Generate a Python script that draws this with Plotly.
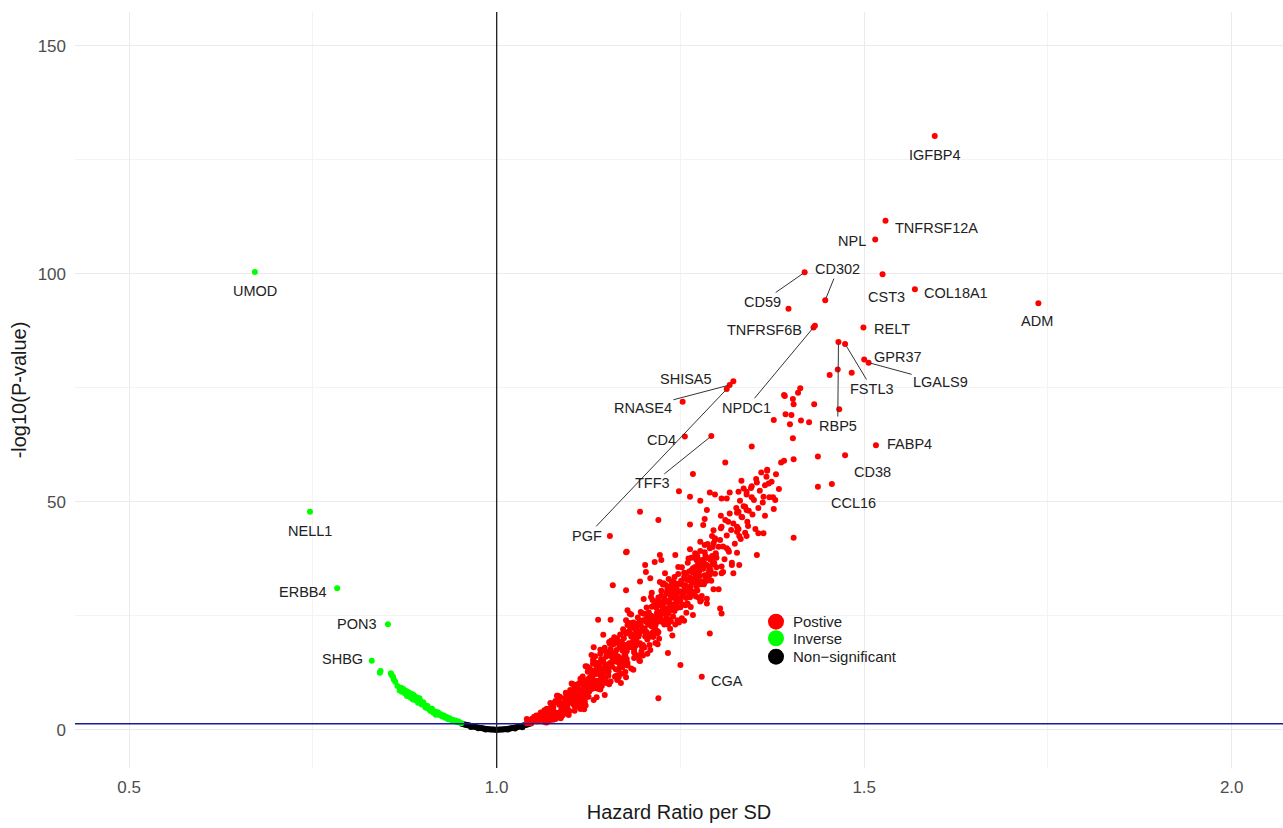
import plotly.graph_objects as go

# ---- labelled proteins (hazard ratio per SD, -log10 P) ----
pos_names = ["IGFBP4", "TNFRSF12A", "NPL", "CST3", "COL18A1", "ADM", "RELT", "CD302",
             "CD59", "TNFRSF6B", "NPDC1", "SHISA5", "RNASE4", "PGF", "CD4", "TFF3",
             "FSTL3", "GPR37", "LGALS9", "RBP5", "FABP4", "CD38", "CCL16", "CGA"]
pos_hr = [1.596, 1.529, 1.515, 1.525, 1.569, 1.737, 1.499, 1.447,
          1.419, 1.431, 1.433, 1.322, 1.317, 1.313, 1.256, 1.292,
          1.474, 1.500, 1.506, 1.465, 1.516, 1.474, 1.456, 1.279]
pos_logp = [130.2, 111.6, 107.5, 99.9, 96.6, 93.5, 88.2, 94.2,
            100.3, 88.2, 88.6, 76.4, 75.6, 74.7, 64.3, 64.4,
            84.6, 81.2, 80.5, 85.0, 62.4, 60.2, 53.9, 11.6]

inv_names = ["UMOD", "NELL1", "ERBB4", "PON3", "SHBG"]
inv_hr = [0.671, 0.746, 0.783, 0.852, 0.830]
inv_logp = [100.4, 47.8, 31.0, 23.1, 15.1]

# ---- remaining positive associations: dense band ----
pos_core = [
    (1.047, 1.38), (1.041, 1.40), (1.048, 2.40), (1.042, 2.05), (1.048, 1.66), (1.041, 2.36),
    (1.058, 3.04), (1.052, 2.00), (1.058, 2.14), (1.054, 2.31), (1.055, 1.87), (1.059, 2.25), (1.050, 2.14), (1.054, 2.00),
    (1.065, 4.11), (1.062, 3.15), (1.063, 2.42), (1.065, 4.27), (1.063, 2.13), (1.066, 3.84), (1.060, 3.78), (1.062, 2.79), (1.068, 4.57),
    (1.077, 4.95), (1.074, 2.22), (1.077, 4.24), (1.071, 2.64), (1.073, 5.87), (1.075, 3.86), (1.072, 3.65), (1.076, 4.28), (1.076, 2.77), (1.072, 2.09),
    (1.084, 6.49), (1.089, 5.59), (1.087, 2.52), (1.087, 3.68), (1.085, 5.49), (1.087, 2.62), (1.082, 7.45), (1.084, 6.76), (1.081, 3.68), (1.080, 2.36), (1.089, 4.74),
    (1.093, 4.35), (1.096, 4.91), (1.099, 4.10), (1.091, 3.85), (1.090, 3.17), (1.095, 7.70), (1.099, 7.88), (1.095, 3.67), (1.097, 7.76), (1.094, 8.13), (1.099, 5.96), (1.096, 4.78),
    (1.106, 9.24), (1.109, 5.60), (1.103, 8.12), (1.101, 6.79), (1.106, 4.13), (1.102, 6.16), (1.107, 6.58), (1.105, 7.70), (1.102, 10.15), (1.104, 7.00), (1.100, 7.56), (1.107, 5.04), (1.108, 5.67),
    (1.116, 10.20), (1.113, 8.65), (1.110, 9.14), (1.111, 7.58), (1.115, 10.94), (1.113, 6.60), (1.118, 8.24), (1.114, 5.20), (1.117, 5.69), (1.112, 7.99), (1.119, 4.46), (1.114, 11.19), (1.119, 5.12), (1.117, 6.51),
    (1.121, 5.29), (1.123, 13.85), (1.128, 13.11), (1.122, 7.15), (1.120, 6.13), (1.127, 10.32), (1.128, 10.69), (1.125, 11.15), (1.122, 9.48), (1.125, 7.25), (1.121, 13.94), (1.126, 13.48), (1.129, 10.22), (1.124, 8.92),
    (1.132, 6.51), (1.137, 14.54), (1.134, 16.09), (1.132, 10.73), (1.137, 9.08), (1.134, 14.54), (1.136, 7.13), (1.136, 13.93), (1.133, 13.00), (1.139, 12.28), (1.131, 9.60), (1.139, 10.73), (1.133, 12.48), (1.132, 9.08),
    (1.140, 12.67), (1.140, 13.66), (1.143, 12.78), (1.140, 10.03), (1.145, 11.57), (1.149, 16.96), (1.149, 16.08), (1.142, 10.91), (1.141, 14.65), (1.148, 10.47), (1.141, 8.82), (1.147, 7.61), (1.144, 17.40), (1.141, 17.51),
    (1.153, 14.07), (1.155, 16.29), (1.159, 18.75), (1.156, 16.52), (1.156, 19.56), (1.152, 12.78), (1.159, 15.82), (1.150, 12.78), (1.154, 18.86), (1.153, 9.97), (1.151, 14.07), (1.157, 13.83), (1.152, 11.84), (1.159, 16.29),
    (1.160, 20.25), (1.161, 11.63), (1.163, 14.88), (1.167, 14.50), (1.164, 10.88), (1.162, 13.25), (1.169, 10.25), (1.165, 16.13), (1.162, 11.75), (1.166, 11.50), (1.160, 19.13), (1.165, 19.00), (1.169, 15.63), (1.168, 20.88),
    (1.176, 11.50), (1.173, 20.08), (1.170, 12.28), (1.177, 15.53), (1.174, 18.65), (1.178, 22.94), (1.171, 13.71), (1.173, 17.74), (1.172, 22.03), (1.179, 18.26), (1.175, 12.67), (1.178, 14.10), (1.176, 23.98), (1.172, 15.14),
    (1.187, 16.92), (1.189, 16.38), (1.184, 18.40), (1.183, 25.29), (1.185, 22.59), (1.189, 20.16), (1.180, 21.64), (1.187, 17.86), (1.186, 23.53), (1.181, 25.42), (1.182, 20.97), (1.183, 13.41), (1.188, 21.10), (1.186, 13.14),
    (1.192, 16.26), (1.199, 18.55), (1.198, 21.66), (1.194, 15.18), (1.190, 20.98), (1.197, 25.57), (1.195, 15.04), (1.193, 23.41), (1.191, 21.52), (1.199, 16.26), (1.196, 25.84), (1.197, 16.39), (1.195, 23.82), (1.194, 21.39),
    (1.200, 28.69), (1.201, 18.03), (1.209, 17.49), (1.206, 24.10), (1.204, 26.80), (1.202, 20.46), (1.205, 16.68), (1.207, 25.72), (1.203, 25.45), (1.208, 20.86), (1.203, 23.70), (1.209, 23.97), (1.201, 22.08), (1.208, 18.57),
    (1.217, 24.66), (1.219, 18.72), (1.213, 20.34), (1.210, 29.11), (1.216, 18.99), (1.214, 27.36), (1.212, 28.44), (1.211, 30.06), (1.215, 21.01), (1.214, 23.58), (1.218, 28.17), (1.218, 21.69), (1.219, 25.87), (1.211, 22.63),
    (1.224, 30.48), (1.229, 25.48), (1.221, 19.95), (1.223, 24.94), (1.226, 27.37), (1.228, 24.00), (1.222, 32.37), (1.224, 26.02), (1.220, 28.99), (1.226, 31.83), (1.227, 28.05), (1.225, 23.73), (1.220, 21.43), (1.229, 26.43),
    (1.232, 30.63), (1.234, 24.15), (1.237, 23.74), (1.238, 32.52), (1.236, 22.12), (1.231, 24.96), (1.234, 33.06), (1.236, 31.44), (1.230, 31.71), (1.239, 20.64), (1.233, 23.07), (1.238, 27.12), (1.230, 28.33), (1.235, 29.68),
    (1.242, 33.48), (1.243, 23.08), (1.246, 26.73), (1.244, 30.78), (1.248, 23.49), (1.240, 24.84), (1.241, 31.18), (1.249, 30.37), (1.245, 29.29), (1.247, 31.99), (1.243, 27.40), (1.247, 34.15), (1.246, 24.03), (1.244, 28.48),
    (1.251, 30.25), (1.256, 33.22), (1.258, 25.66), (1.255, 34.44), (1.253, 27.42), (1.259, 27.69), (1.254, 31.74), (1.252, 24.45), (1.250, 26.88), (1.252, 35.65), (1.255, 29.17), (1.258, 34.30), (1.255, 23.91), (1.257, 30.39),
    (1.264, 32.56), (1.263, 30.54), (1.267, 35.40), (1.261, 37.56), (1.260, 27.57), (1.268, 29.86), (1.265, 37.69), (1.262, 34.72), (1.269, 30.13), (1.266, 33.10), (1.267, 25.14), (1.264, 26.89), (1.269, 34.72), (1.261, 31.21),
    (1.274, 33.52), (1.279, 36.63), (1.276, 35.41), (1.272, 37.17), (1.270, 37.71), (1.277, 39.19), (1.279, 29.34), (1.275, 28.93), (1.273, 38.11), (1.271, 29.20), (1.278, 28.39), (1.270, 33.12), (1.275, 35.68), (1.271, 34.20),
    (1.285, 37.80), (1.288, 32.76), (1.281, 35.42), (1.287, 40.74), (1.280, 36.68), (1.282, 35.84), (1.284, 33.60), (1.286, 28.70), (1.289, 35.00), (1.283, 33.88), (1.283, 38.92), (1.286, 37.66),
    (1.296, 36.58), (1.290, 35.74), (1.298, 38.40), (1.292, 32.66), (1.294, 40.08), (1.291, 37.28), (1.293, 42.46), (1.297, 41.62), (1.299, 37.70), (1.295, 43.72),
    (1.305, 44.2), (1.306, 35.8), (1.308, 40.2), (1.310, 37.4), (1.311, 46.0), (1.313, 42.6),
    (1.316, 39.0), (1.317, 47.4), (1.319, 43.8), (1.320, 36.6), (1.322, 45.2), (1.324, 40.8),
    (1.326, 48.6), (1.327, 38.8), (1.329, 44.0), (1.331, 50.2), (1.332, 41.8), (1.334, 46.6),
    (1.336, 49.0), (1.338, 43.2), (1.340, 51.6), (1.341, 45.6), (1.343, 48.0),
    (1.346, 53.0), (1.348, 47.2), (1.350, 50.4), (1.352, 44.0), (1.353, 55.0),
    (1.356, 48.6), (1.358, 52.4), (1.360, 56.4), (1.362, 49.8), (1.365, 53.6), (1.368, 57.0), (1.371, 51.0), (1.374, 54.4),
    (1.377, 48.4), (1.380, 56.0), (1.384, 52.8), (1.387, 58.6),
]

pos_core_b = [
    (1.051, 2.86), (1.054, 3.10), (1.056, 3.08), (1.055, 2.09), (1.059, 3.15), (1.052, 2.60),
    (1.066, 1.63), (1.065, 3.22), (1.063, 2.66), (1.061, 2.69), (1.068, 1.57), (1.069, 4.37), (1.067, 3.05), (1.064, 1.93),
    (1.073, 3.98), (1.072, 4.57), (1.070, 2.81), (1.078, 5.87), (1.074, 4.95), (1.076, 4.82), (1.079, 3.77), (1.077, 2.18), (1.075, 3.31),
    (1.083, 7.45), (1.086, 7.24), (1.088, 4.59), (1.081, 6.12), (1.082, 2.99), (1.087, 5.86), (1.089, 5.75), (1.085, 3.79), (1.080, 6.28), (1.082, 3.47),
    (1.098, 3.23), (1.092, 6.89), (1.094, 4.66), (1.091, 4.97), (1.099, 8.07), (1.097, 5.71), (1.095, 6.46), (1.096, 5.59), (1.099, 7.20), (1.090, 5.16), (1.097, 4.10),
    (1.109, 8.96), (1.103, 7.14), (1.101, 7.07), (1.105, 8.12), (1.104, 6.44), (1.100, 8.68), (1.105, 5.39), (1.108, 6.72), (1.102, 7.91), (1.106, 9.87), (1.103, 10.01), (1.107, 4.90),
    (1.114, 4.55), (1.119, 8.40), (1.117, 11.68), (1.111, 6.02), (1.115, 8.81), (1.119, 10.37), (1.112, 5.37), (1.113, 7.74), (1.110, 9.71), (1.117, 6.68), (1.118, 9.38), (1.116, 7.17), (1.112, 10.20),
    (1.124, 13.57), (1.120, 9.39), (1.126, 8.36), (1.122, 7.90), (1.128, 10.04), (1.121, 10.78), (1.125, 10.69), (1.127, 11.52), (1.123, 7.99), (1.129, 11.99), (1.124, 12.73), (1.129, 8.92), (1.126, 10.97),
    (1.132, 15.06), (1.138, 8.98), (1.130, 11.35), (1.133, 9.70), (1.134, 12.17), (1.136, 14.03), (1.139, 9.50), (1.135, 10.73), (1.137, 14.65), (1.134, 12.90), (1.131, 14.44), (1.138, 13.93), (1.135, 9.39),
    (1.147, 17.95), (1.140, 10.25), (1.146, 13.55), (1.143, 9.59), (1.149, 12.78), (1.148, 11.35), (1.142, 15.53), (1.141, 16.63), (1.144, 12.01), (1.148, 14.32), (1.145, 15.20), (1.149, 10.25), (1.141, 11.90),
    (1.155, 10.56), (1.151, 13.48), (1.153, 19.21), (1.158, 14.88), (1.157, 15.82), (1.152, 12.78), (1.159, 19.10), (1.150, 13.60), (1.156, 16.64), (1.154, 14.65), (1.154, 17.22), (1.151, 13.95), (1.155, 17.69),
    (1.169, 14.75), (1.163, 17.50), (1.168, 18.25), (1.164, 20.00), (1.161, 16.88), (1.166, 13.25), (1.160, 16.00), (1.169, 15.63), (1.165, 12.00), (1.167, 18.13), (1.162, 19.63), (1.163, 15.13), (1.168, 13.75),
    (1.172, 18.39), (1.176, 21.12), (1.173, 14.49), (1.171, 17.35), (1.177, 17.22), (1.178, 14.62), (1.175, 16.31), (1.170, 19.30), (1.179, 21.25), (1.174, 16.57), (1.178, 18.00), (1.173, 21.51), (1.175, 15.40),
    (1.181, 23.40), (1.180, 18.94), (1.182, 22.45), (1.187, 15.70), (1.185, 22.32), (1.183, 20.43), (1.189, 18.40), (1.186, 20.02), (1.188, 23.26), (1.184, 19.08), (1.182, 18.13), (1.189, 21.10), (1.187, 17.46),
    (1.190, 22.74), (1.195, 18.96), (1.191, 21.93), (1.198, 23.95), (1.199, 22.33), (1.196, 18.55), (1.194, 20.98), (1.192, 24.63), (1.197, 17.20), (1.193, 20.44), (1.196, 22.87), (1.190, 19.63), (1.198, 18.01),
    (1.208, 23.56), (1.201, 22.08), (1.205, 24.91), (1.202, 24.10), (1.209, 25.05), (1.203, 21.00), (1.206, 23.02), (1.207, 20.32), (1.204, 21.40), (1.200, 25.45), (1.203, 23.83), (1.205, 19.78), (1.208, 20.59),
    (1.218, 25.60), (1.212, 21.28), (1.211, 26.95), (1.210, 24.25), (1.219, 21.15), (1.217, 23.44), (1.215, 22.50), (1.213, 23.85), (1.216, 22.90), (1.219, 27.22), (1.214, 21.55), (1.217, 26.82), (1.211, 24.93),
    (1.224, 29.40), (1.220, 25.08), (1.226, 26.83), (1.222, 24.40), (1.229, 26.02), (1.223, 23.73), (1.227, 27.91), (1.228, 28.99), (1.221, 28.18), (1.225, 25.48), (1.228, 23.05), (1.227, 26.43), (1.224, 27.37),
    (1.236, 26.17), (1.234, 27.93), (1.231, 28.06), (1.239, 26.98), (1.237, 29.01), (1.235, 28.20), (1.233, 26.71), (1.230, 25.50), (1.238, 30.22), (1.232, 25.36), (1.236, 30.49), (1.237, 27.52), (1.234, 25.63),
    (1.245, 31.45), (1.246, 30.10), (1.244, 27.67), (1.248, 28.75), (1.242, 29.56), (1.243, 27.13), (1.247, 26.86), (1.240, 29.02), (1.241, 32.40), (1.249, 28.21), (1.244, 30.91), (1.245, 27.94), (1.242, 26.05),
    (1.257, 31.60), (1.258, 28.90), (1.256, 30.93), (1.253, 29.44), (1.251, 32.68), (1.259, 32.82), (1.254, 29.98), (1.250, 28.23), (1.257, 27.28), (1.252, 31.87), (1.255, 33.49), (1.258, 30.79), (1.256, 30.25),
    (1.260, 36.61), (1.261, 30.94), (1.269, 32.29), (1.263, 33.37), (1.266, 32.97), (1.267, 34.45), (1.264, 31.48), (1.265, 30.40), (1.262, 29.86), (1.268, 32.56), (1.265, 34.99), (1.263, 29.05),
    (1.278, 31.90), (1.276, 34.87), (1.274, 36.36), (1.271, 33.93), (1.272, 32.71), (1.273, 30.55), (1.277, 37.17), (1.270, 35.68), (1.279, 32.58), (1.275, 32.04), (1.272, 31.36), (1.276, 33.79),
    (1.283, 36.40), (1.287, 33.60), (1.281, 35.28), (1.289, 34.44), (1.285, 32.62), (1.280, 37.24), (1.288, 34.30), (1.282, 31.92), (1.286, 36.12), (1.284, 38.08),
    (1.294, 36.30), (1.298, 38.68), (1.291, 34.90), (1.296, 37.70), (1.290, 39.80), (1.299, 35.60), (1.293, 38.12), (1.297, 34.20),
]

# ---- remaining positive associations: sparse upper cloud and outliers ----
pos_scatter = [
    (1.413, 74.9), (1.410, 73.9), (1.391, 73.4), (1.403, 72.5), (1.404, 71.4), (1.432, 71.4),
    (1.393, 69.2), (1.401, 69.0), (1.377, 67.9), (1.399, 67.0), (1.414, 67.8), (1.425, 67.4),
    (1.403, 63.9), (1.347, 62.1), (1.391, 59.0), (1.404, 59.3), (1.437, 59.9), (1.311, 58.6),
    (1.368, 56.8), (1.267, 56.1), (1.367, 55.5), (1.333, 54.6), (1.370, 54.0), (1.354, 54.2),
    (1.347, 53.4), (1.336, 52.9), (1.329, 52.2), (1.317, 52.0), (1.340, 52.2), (1.290, 52.0),
    (1.297, 51.6), (1.248, 52.3), (1.263, 51.1), (1.306, 50.7), (1.313, 50.7), (1.277, 50.2),
    (1.347, 51.0), (1.363, 51.1), (1.376, 51.0), (1.379, 50.4), (1.195, 47.8), (1.220, 46.0),
    (1.154, 42.5), (1.286, 48.2), (1.338, 48.9), (1.329, 47.8), (1.340, 48.2), (1.333, 46.7),
    (1.327, 47.6), (1.365, 46.9), (1.305, 46.9), (1.283, 46.2), (1.315, 45.6), (1.263, 45.0),
    (1.281, 44.9), (1.306, 44.5), (1.327, 44.5), (1.342, 44.7), (1.327, 43.4), (1.340, 42.5),
    (1.356, 43.1), (1.363, 43.1), (1.404, 42.1), (1.330, 42.5), (1.297, 42.0), (1.304, 41.6),
    (1.277, 41.2), (1.283, 40.5), (1.295, 40.9), (1.302, 40.1), (1.177, 39.0), (1.222, 38.3),
    (1.243, 38.3), (1.263, 39.6), (1.270, 38.7), (1.315, 39.4), (1.354, 38.3), (1.453, 77.8),
    (1.464, 79.0), (1.483, 78.3), (1.392, 73.2), (1.437, 53.3), (1.466, 70.3), (1.397, 92.3),
    (1.253, 71.9),
    (1.176, 38.9), (1.158, 31.7), (1.176, 30.6), (1.195, 32.5), (1.209, 33.2), (1.178, 26.2),
    (1.138, 24.1), (1.155, 24.1), (1.145, 20.8), (1.132, 18.1), (1.129, 16.4), (1.131, 15.3),
    (1.250, 14.2), (1.233, 16.8), (1.220, 6.9), (1.290, 21.1), (1.306, 25.5), (1.304, 26.6),
    (1.295, 30.8), (1.302, 30.8), (1.320, 36.1), (1.308, 34.6), (1.322, 34.3), (1.330, 36.1),
    (1.313, 39.8), (1.202, 36.1), (1.203, 34.6), (1.215, 36.8), (1.224, 37.2), (1.229, 34.3),
    (1.227, 32.1), (1.231, 29.9), (1.247, 35.7), (1.240, 32.1), (1.272, 33.5), (1.290, 33.9),
    (1.306, 34.3), (1.277, 28.1), (1.286, 27.7),
]

# ---- remaining inverse associations ----
inv_rest = [
    (0.842, 12.9), (0.841, 12.5), (0.856, 12.4), (0.857, 12.0), (0.859, 11.6), (0.862, 10.5),
    (0.860, 11.0), (0.865, 9.6), (0.868, 8.6), (0.871, 8.3), (0.873, 8.9), (0.875, 8.0),
    (0.878, 7.4), (0.880, 8.2), (0.883, 7.0), (0.887, 7.6), (0.886, 6.6), (0.889, 6.5),
    (0.891, 7.1), (0.893, 5.9), (0.896, 6.3), (0.898, 5.5), (0.900, 6.0), (0.902, 5.4),
    (0.904, 4.8), (0.906, 5.2), (0.908, 4.5), (0.910, 4.1), (0.912, 4.6), (0.914, 3.7),
    (0.916, 4.0), (0.918, 3.5), (0.920, 3.8), (0.922, 3.2), (0.924, 3.4), (0.926, 2.9),
    (0.928, 3.1), (0.930, 2.6), (0.932, 2.8), (0.934, 2.3), (0.936, 2.5), (0.938, 2.1),
    (0.940, 2.2), (0.942, 1.9), (0.944, 2.0), (0.946, 1.7), (0.948, 1.8), (0.950, 1.5),
    (0.952, 1.4), (0.895, 6.9), (0.884, 7.9), (0.870, 9.2), (0.877, 8.5), (0.903, 4.9),
    (0.917, 3.3),
]

# ---- non-significant ----
nonsig = [
    (0.953, 1.25), (0.956, 1.15), (0.958, 1.10), (0.960, 1.00), (0.962, 0.95), (0.964, 0.85),
    (0.966, 0.80), (0.968, 0.70), (0.970, 0.65), (0.972, 0.55), (0.974, 0.50), (0.976, 0.45),
    (0.978, 0.35), (0.980, 0.30), (0.982, 0.25), (0.984, 0.20), (0.986, 0.15), (0.988, 0.10),
    (0.990, 0.08), (0.992, 0.05), (0.994, 0.03), (0.996, 0.02), (0.998, 0.01), (1.000, 0.00),
    (1.002, 0.01), (1.004, 0.02), (1.006, 0.04), (1.008, 0.06), (1.010, 0.09), (1.012, 0.12),
    (1.014, 0.16), (1.016, 0.20), (1.018, 0.25), (1.020, 0.30), (1.022, 0.36), (1.024, 0.42),
    (1.026, 0.50), (1.028, 0.57), (1.030, 0.65), (1.032, 0.73), (1.034, 0.82), (1.036, 0.90),
    (1.038, 1.00), (1.040, 1.08), (1.042, 1.16), (1.044, 1.24), (0.965, 0.60), (0.975, 0.30),
    (0.985, 0.05), (1.015, 0.05), (1.025, 0.25), (1.035, 0.55),
]

p_threshold = 1.30  # -log10(0.05)
x_ticks = [0.5, 1.0, 1.5, 2.0]
y_ticks = [0, 50, 100, 150]
legend_labels = ["Postive", "Inverse", "Non\u2212significant"]
colors = {"pos": "#ff0000", "inv": "#00ff00", "ns": "#000000"}

# ---- label placement (text centre, data units) and whether a leader segment is drawn ----
label_xy = {
    "IGFBP4": (1.596, 126.0, False), "TNFRSF12A": (1.598, 110.0, False), "NPL": (1.484, 107.2, False),
    "CST3": (1.531, 94.9, False), "COL18A1": (1.625, 95.8, False), "ADM": (1.735, 89.6, False),
    "RELT": (1.538, 87.9, False), "CD302": (1.464, 101.0, True), "CD59": (1.361, 93.8, True),
    "TNFRSF6B": (1.365, 87.7, False), "NPDC1": (1.340, 70.6, True), "SHISA5": (1.258, 76.9, False),
    "RNASE4": (1.199, 70.6, True), "PGF": (1.123, 42.5, True), "CD4": (1.224, 63.5, False),
    "TFF3": (1.212, 54.0, True), "FSTL3": (1.511, 74.7, True), "GPR37": (1.546, 81.7, False),
    "LGALS9": (1.604, 76.2, True), "RBP5": (1.464, 66.6, True), "FABP4": (1.561, 62.6, False),
    "CD38": (1.511, 56.5, False), "CCL16": (1.486, 49.7, False), "CGA": (1.313, 10.7, False),
    "UMOD": (0.671, 96.2, False), "NELL1": (0.746, 43.6, False), "ERBB4": (0.737, 30.2, False),
    "PON3": (0.810, 23.2, False), "SHBG": (0.790, 15.5, False),
}

FONT = "Liberation Sans, Arial, sans-serif"
MARKER = 6

pos_pts = pos_core + pos_core_b + pos_scatter
pos_x = [p[0] for p in pos_pts] + pos_hr
pos_y = [p[1] for p in pos_pts] + pos_logp
inv_x = [p[0] for p in inv_rest] + inv_hr
inv_y = [p[1] for p in inv_rest] + inv_logp
ns_x = [p[0] for p in nonsig]
ns_y = [p[1] for p in nonsig]

fig = go.Figure()
fig.add_trace(go.Scatter(x=ns_x, y=ns_y, mode="markers", name=legend_labels[2],
                         marker=dict(color=colors["ns"], size=MARKER), showlegend=False))
fig.add_trace(go.Scatter(x=inv_x, y=inv_y, mode="markers", name=legend_labels[1],
                         marker=dict(color=colors["inv"], size=MARKER), showlegend=False))
fig.add_trace(go.Scatter(x=pos_x, y=pos_y, mode="markers", name=legend_labels[0],
                         marker=dict(color=colors["pos"], size=MARKER), showlegend=False))

# reference lines: HR = 1 and nominal significance
fig.add_shape(type="line", xref="x", yref="paper", x0=1, x1=1, y0=0, y1=1,
              line=dict(color="#1e1e1e", width=1.3), layer="above")
fig.add_shape(type="line", xref="paper", yref="y", x0=0, x1=1, y0=p_threshold, y1=p_threshold,
              line=dict(color="#1a1a9a", width=1.3), layer="above")

# gene labels
all_names = pos_names + inv_names
all_hr = pos_hr + inv_hr
all_lp = pos_logp + inv_logp
for name, hx, ly in zip(all_names, all_hr, all_lp):
    tx, ty, seg = label_xy[name]
    if seg:
        fig.add_annotation(x=hx, y=ly, ax=tx, ay=ty, axref="x", ayref="y", text=name,
                           showarrow=True, arrowhead=0, arrowwidth=1, arrowcolor="#333333",
                           standoff=2, font=dict(family=FONT, size=14.5, color="#222222"))
    else:
        fig.add_annotation(x=tx, y=ty, text=name, showarrow=False,
                           font=dict(family=FONT, size=14.5, color="#222222"))

# legend keys
legend_y = [0.1935, 0.1716, 0.1472]
for lab, col, ly in zip(legend_labels, [colors["pos"], colors["inv"], colors["ns"]], legend_y):
    fig.add_shape(type="circle", xref="paper", yref="paper", xsizemode="pixel", ysizemode="pixel",
                  xanchor=0.5803, yanchor=ly, x0=-8, x1=8, y0=-8, y1=8,
                  fillcolor=col, line=dict(width=0), layer="above")
    fig.add_annotation(xref="paper", yref="paper", x=0.5927, y=ly, xanchor="left", yanchor="middle",
                       text=lab, showarrow=False, font=dict(family=FONT, size=15, color="#222222"))

fig.update_layout(
    width=1283, height=828,
    margin=dict(l=75, r=0, t=12, b=60),
    paper_bgcolor="white", plot_bgcolor="white",
    font=dict(family=FONT),
    showlegend=False,
)
fig.update_xaxes(
    range=[0.4263, 2.0698], tickvals=x_ticks, ticktext=[f"{v:.1f}" for v in x_ticks],
    showgrid=True, gridcolor="#ebebeb", gridwidth=1, zeroline=False, showline=False, ticks="",
    minor=dict(showgrid=True, gridcolor="#f3f3f3", gridwidth=1, tickvals=[0.75, 1.25, 1.75]),
    tickfont=dict(size=17, color="#4d4d4d"), ticklabelstandoff=7,
    title=dict(text="Hazard Ratio per SD", font=dict(size=20, color="#1a1a1a"), standoff=8),
)
fig.update_yaxes(
    range=[-8.4, 157.4], tickvals=y_ticks, ticktext=[str(v) for v in y_ticks],
    showgrid=True, gridcolor="#ebebeb", gridwidth=1, zeroline=False, showline=False, ticks="",
    minor=dict(showgrid=True, gridcolor="#f3f3f3", gridwidth=1, tickvals=[25, 75, 125]),
    tickfont=dict(size=17, color="#4d4d4d"), ticklabelstandoff=8,
    title=dict(text="-log10(P-value)", font=dict(size=20, color="#1a1a1a"), standoff=5),
)

fig.write_html("out.html")
